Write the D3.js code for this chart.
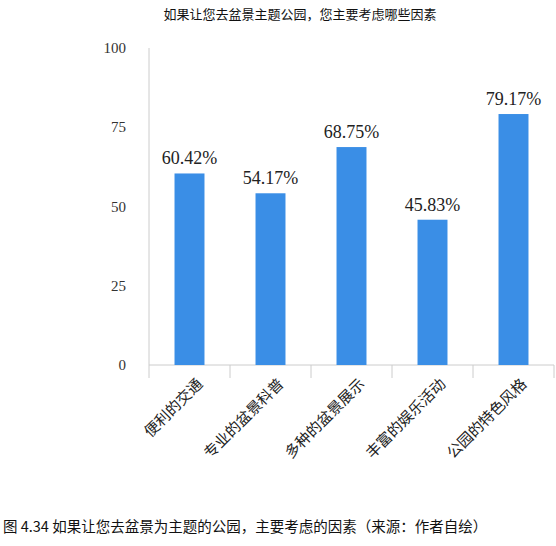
<!DOCTYPE html>
<html><head><meta charset="utf-8">
<script src="https://cdn.jsdelivr.net/npm/d3@7"></script>
<style>body{margin:0;background:#fff;overflow:hidden}</style>
</head><body>
<svg id="chart" width="556" height="546"></svg>
<script>
const categories = ["便利的交通", "专业的盆景科普", "多种的盆景展示", "丰富的娱乐活动", "公园的特色风格"];
const values = [60.42, 54.17, 68.75, 45.83, 79.17];
const yTicks = [0, 25, 50, 75, 100];

const svg = d3.select("#chart");
const margin = {top: 48, left: 149, right: 2, bottom: 181};
const width = 556, height = 546;
const cjk = "'Noto Sans CJK SC', sans-serif";

const x = d3.scaleBand().domain(categories).range([margin.left, 554]).paddingInner(0.63).paddingOuter(0.315);
const y = d3.scaleLinear().domain([0, 100]).range([height - margin.bottom, margin.top]);

svg.append("text").attr("x", 300).attr("y", 19).attr("text-anchor", "middle")
    .attr("font-family", cjk).attr("font-size", 13).attr("fill", "#111").text("如果让您去盆景主题公园，您主要考虑哪些因素");

// y axis
svg.append("line").attr("x1", margin.left).attr("x2", margin.left).attr("y1", y(100)).attr("y2", y(0)).attr("stroke", "#ccc");
svg.selectAll(".yt").data(yTicks).enter().append("text")
    .attr("x", 126).attr("y", d => y(d) + 5).attr("text-anchor", "end")
    .attr("font-family", "'Liberation Serif', serif").attr("font-size", 15).attr("fill", "#333").text(d => d);

// x baseline and separators
svg.append("line").attr("x1", margin.left).attr("x2", 554).attr("y1", y(0)).attr("y2", y(0)).attr("stroke", "#ccc");
const seps = d3.range(categories.length + 1).map(i => margin.left + i * x.step());
svg.selectAll(".sep").data(seps).enter().append("line")
    .attr("x1", d => d).attr("x2", d => d).attr("y1", y(0)).attr("y2", y(0) + 13).attr("stroke", "#ccc");

svg.selectAll(".bar").data(values).enter().append("rect")
    .attr("x", (d, i) => x(categories[i])).attr("width", x.bandwidth())
    .attr("y", d => y(d)).attr("height", d => y(0) - y(d)).attr("fill", "#3a8ee6");

svg.selectAll(".val").data(values).enter().append("text")
    .attr("x", (d, i) => x(categories[i]) + x.bandwidth() / 2).attr("y", d => y(d) - 9)
    .attr("text-anchor", "middle").attr("font-family", "'Liberation Serif', serif")
    .attr("font-size", 18).attr("fill", "#222").text(d => d.toFixed(2) + "%");

svg.selectAll(".xl").data(categories).enter().append("text")
    .attr("transform", d => `translate(${x(d) + x.bandwidth() / 2 + 14},${y(0) + 20}) rotate(-45)`)
    .attr("text-anchor", "end").attr("font-family", cjk).attr("font-size", 15).attr("fill", "#222").text(d => d);

svg.append("text").attr("x", 3).attr("y", 532).attr("font-family", cjk).attr("font-size", 14.5)
    .attr("fill", "#111").text("图 4.34 如果让您去盆景为主题的公园，主要考虑的因素（来源：作者自绘）");
</script>
</body></html>
